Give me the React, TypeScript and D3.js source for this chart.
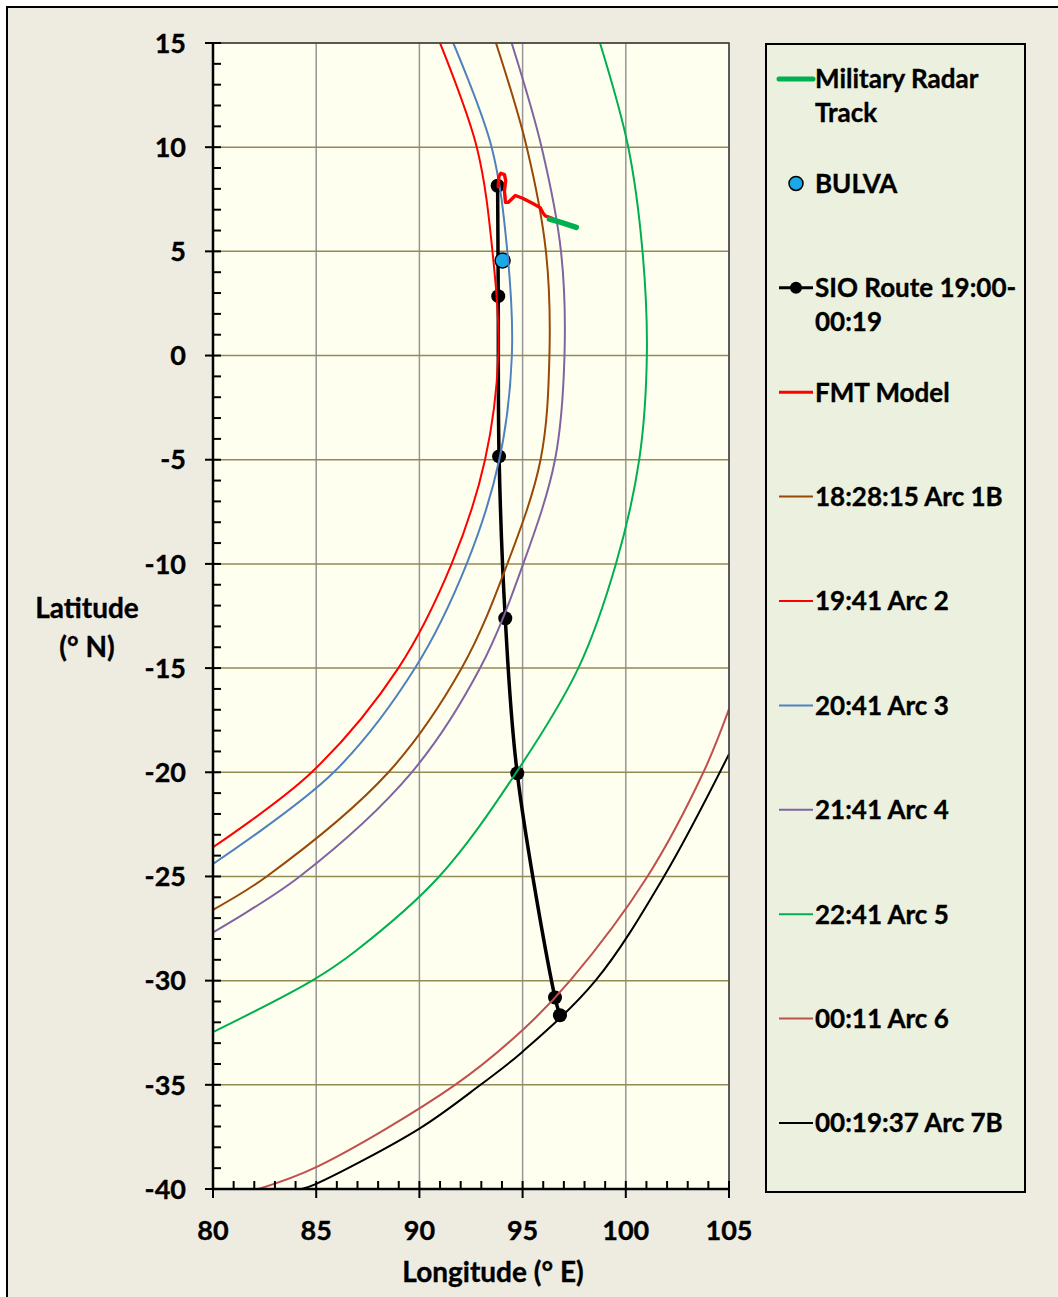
import React from "react";
import * as d3 from "d3";

// Axis ticks
const lonTicks = [80, 85, 90, 95, 100, 105];
const latTicks = [15, 10, 5, 0, -5, -10, -15, -20, -25, -30, -35, -40];

// Military radar track
const radarLon = [96.3, 96.9, 97.6];
const radarLat = [6.55, 6.38, 6.15];

// BULVA waypoint
const bulvaLon = [94.03];
const bulvaLat = [4.56];

// SIO route 19:00-00:19
const sioLon = [93.79, 93.82, 93.86, 94.16, 94.74, 96.57, 96.81];
const sioLat = [8.15, 2.85, -4.84, -12.61, -20.05, -30.81, -31.66];

// FMT model path
const fmtLon = [93.82, 93.85, 93.95, 94.12, 94.18, 94.12, 94.17, 94.3, 94.65, 95.0, 95.5, 95.85, 95.98, 96.1, 96.4, 96.7];
const fmtLat = [8.1, 8.6, 8.75, 8.68, 8.4, 7.9, 7.35, 7.35, 7.68, 7.55, 7.3, 7.1, 6.85, 6.7, 6.6, 6.45];

// Ping arcs
const arc1bLon = [93.71, 95.2, 96.13, 96.3, 95.87, 94.26, 92.05, 88.5, 82.6, 80.0];
const arc1bLat = [15, 10, 5, 0, -5, -10, -15, -20, -25, -26.6];

const arc2Lon = [91.0, 92.78, 93.54, 93.82, 93.18, 91.56, 88.98, 84.78, 80.0];
const arc2Lat = [15, 10, 5, 0, -5, -10, -15, -20, -23.6];

const arc3Lon = [91.64, 93.5, 94.26, 94.48, 93.87, 92.29, 89.79, 85.85, 80.0];
const arc3Lat = [15, 10, 5, 0, -5, -10, -15, -20, -24.4];

const arc4Lon = [94.47, 95.92, 96.86, 97.03, 96.57, 95.03, 92.94, 89.63, 84.2, 80.0];
const arc4Lat = [15, 10, 5, 0, -5, -10, -15, -20, -25, -27.68];

const arc5Lon = [98.75, 100.12, 100.81, 101.02, 100.65, 99.52, 97.7, 94.7, 90.96, 86.88, 84.8, 80.0];
const arc5Lat = [15, 10, 5, 0, -5, -10, -15, -20, -25, -28.6, -30, -32.47];

const arc6Lon = [105.0, 103.76, 101.05, 97.3, 95.0, 91.73, 85.0, 82.2];
const arc6Lat = [-16.97, -20, -25, -30, -32.37, -35, -38.95, -40];

const arc7bLon = [105.0, 101.85, 98.53, 95.0, 92.96, 90.0, 85.0, 84.3];
const arc7bLat = [-19.13, -25, -30, -33.41, -35, -37.1, -39.75, -40];

type Pt = [number, number];
const zip = (lon: number[], lat: number[]): Pt[] => lon.map((v, i) => [v, lat[i]]);

const arcs = [
  { name: "18:28:15 Arc 1B", color: "#984807", pts: zip(arc1bLon, arc1bLat) },
  { name: "19:41 Arc 2", color: "#FF0000", pts: zip(arc2Lon, arc2Lat) },
  { name: "20:41 Arc 3", color: "#4F81BD", pts: zip(arc3Lon, arc3Lat) },
  { name: "21:41 Arc 4", color: "#8064A2", pts: zip(arc4Lon, arc4Lat) },
  { name: "22:41 Arc 5", color: "#00B050", pts: zip(arc5Lon, arc5Lat) },
  { name: "00:11 Arc 6", color: "#C0504D", pts: zip(arc6Lon, arc6Lat) },
  { name: "00:19:37 Arc 7B", color: "#000000", pts: zip(arc7bLon, arc7bLat) },
];

const W = 1058;
const H = 1297;
const left = 213, right = 729, top = 43, bottom = 1189;
const FONT = "Lato, 'Open Sans', sans-serif";

export default function App() {
  const x = d3.scaleLinear().domain([80, 105]).range([left, right]);
  const y = d3.scaleLinear().domain([-40, 15]).range([bottom, top]);

  const smooth = d3
    .line<Pt>()
    .x((d) => x(d[0]))
    .y((d) => y(d[1]))
    .curve(d3.curveCatmullRom.alpha(0.5));
  const straight = d3
    .line<Pt>()
    .x((d) => x(d[0]))
    .y((d) => y(d[1]));

  const minorLon = d3.range(80, 106, 1).filter((v) => v % 5 !== 0);
  const minorLat = d3.range(-40, 16, 1).filter((v) => v % 5 !== 0);

  const sio = zip(sioLon, sioLat);
  const fmt = zip(fmtLon, fmtLat);
  const radar = zip(radarLon, radarLat);
  const bulva = zip(bulvaLon, bulvaLat);

  // legend layout
  const lgX = 766, lgY = 44, lgW = 259, lgH = 1148;
  const rowY = (i: number) => 79 + i * 104.4;
  const sx0 = 779, sx1 = 813, tx = 815;

  const textProps = {
    fontFamily: FONT,
    fontWeight: 700,
    fill: "#000",
    stroke: "#000",
    strokeWidth: 0.35,
  };

  const legendText = (lines: string[], yy: number) => (
    <text x={tx} y={yy} {...textProps} fontSize={26}>
      {lines.map((l, i) => (
        <tspan key={i} x={tx} y={yy + i * 34} dy="0.36em">
          {l}
        </tspan>
      ))}
    </text>
  );

  return (
    <svg
      width={W}
      height={H}
      style={{ position: "absolute", left: 0, top: 0 }}
      xmlns="http://www.w3.org/2000/svg"
    >
      <defs>
        <clipPath id="plotClip">
          <rect x={left} y={top} width={right - left} height={bottom - top} />
        </clipPath>
      </defs>
      <rect x={0} y={0} width={W} height={H} fill="#FFFFFF" />
      <rect x={7} y={7} width={W + 10} height={H + 10} fill="#EEECE1" stroke="#000" strokeWidth={2} />

      {/* plot area */}
      <rect x={left} y={top} width={right - left} height={bottom - top} fill="#FFFFF0" />

      {/* gridlines */}
      {lonTicks.map((v) => (
        <line key={"gx" + v} x1={x(v)} x2={x(v)} y1={top} y2={bottom} stroke="#969696" strokeWidth={1.5} />
      ))}
      {latTicks.map((v) => (
        <line key={"gy" + v} x1={left} x2={right} y1={y(v)} y2={y(v)} stroke="#948A54" strokeWidth={1.5} />
      ))}

      <g clipPath="url(#plotClip)" fill="none">
        {/* SIO route */}
        <path d={smooth(sio) || ""} stroke="#000" strokeWidth={3.5} />
        {sio.map((p, i) => (
          <circle key={"s" + i} cx={x(p[0])} cy={y(p[1])} r={7} fill="#000" />
        ))}
        {/* BULVA */}
        {bulva.map((p, i) => (
          <circle key={"b" + i} cx={x(p[0])} cy={y(p[1])} r={7.5} fill="#1BA8E8" stroke="#000" strokeWidth={1.5} />
        ))}
        {/* ping arcs */}
        {arcs.map((a) => (
          <path key={a.name} d={smooth(a.pts) || ""} stroke={a.color} strokeWidth={2} />
        ))}
        {/* FMT model */}
        <path d={straight(fmt) || ""} stroke="#FF0000" strokeWidth={3.4} strokeLinejoin="round" strokeLinecap="round" />
        {/* military radar track */}
        <path d={straight(radar) || ""} stroke="#00B050" strokeWidth={5.5} strokeLinecap="round" />
      </g>

      {/* plot border */}
      <rect x={left} y={top} width={right - left} height={bottom - top} fill="none" stroke="#3F3F3F" strokeWidth={1.5} />

      {/* axes */}
      <line x1={left} x2={left} y1={top} y2={bottom} stroke="#000" strokeWidth={2.5} />
      <line x1={left} x2={right} y1={bottom} y2={bottom} stroke="#000" strokeWidth={2.5} />
      {latTicks.map((v) => (
        <line key={"ty" + v} x1={205} x2={221} y1={y(v)} y2={y(v)} stroke="#000" strokeWidth={2} />
      ))}
      {minorLat.map((v) => (
        <line key={"my" + v} x1={left} x2={221} y1={y(v)} y2={y(v)} stroke="#000" strokeWidth={2} />
      ))}
      {lonTicks.map((v) => (
        <line key={"tx" + v} x1={x(v)} x2={x(v)} y1={1181} y2={1198} stroke="#000" strokeWidth={2} />
      ))}
      {minorLon.map((v) => (
        <line key={"mx" + v} x1={x(v)} x2={x(v)} y1={1181} y2={bottom} stroke="#000" strokeWidth={2} />
      ))}

      {/* tick labels */}
      {latTicks.map((v) => (
        <text key={"ly" + v} x={186} y={y(v)} dy="0.36em" textAnchor="end" {...textProps} fontSize={27}>
          {v}
        </text>
      ))}
      {lonTicks.map((v) => (
        <text key={"lx" + v} x={x(v)} y={1230} dy="0.36em" textAnchor="middle" {...textProps} fontSize={27}>
          {v}
        </text>
      ))}

      {/* axis titles */}
      <text x={493} y={1272} dy="0.36em" textAnchor="middle" {...textProps} fontSize={28}>
        Longitude (° E)
      </text>
      <text x={87} y={608} dy="0.36em" textAnchor="middle" {...textProps} fontSize={28}>
        Latitude
      </text>
      <text x={87} y={647} dy="0.36em" textAnchor="middle" {...textProps} fontSize={28}>
        (° N)
      </text>

      {/* legend */}
      <rect x={lgX} y={lgY} width={lgW} height={lgH} fill="#EBF1DE" stroke="#000" strokeWidth={2} />
      <line x1={sx0} x2={sx1} y1={rowY(0)} y2={rowY(0)} stroke="#00B050" strokeWidth={5} strokeLinecap="round" />
      {legendText(["Military Radar", "Track"], rowY(0))}
      <circle cx={796} cy={rowY(1)} r={7} fill="#1BA8E8" stroke="#000" strokeWidth={1.5} />
      {legendText(["BULVA"], rowY(1))}
      <line x1={sx0} x2={sx1} y1={rowY(2)} y2={rowY(2)} stroke="#000" strokeWidth={3} />
      <circle cx={796} cy={rowY(2)} r={6} fill="#000" />
      {legendText(["SIO Route 19:00-", "00:19"], rowY(2))}
      <line x1={sx0} x2={sx1} y1={rowY(3)} y2={rowY(3)} stroke="#FF0000" strokeWidth={3} />
      {legendText(["FMT Model"], rowY(3))}
      {arcs.map((a, i) => (
        <g key={"lg" + a.name}>
          <line x1={sx0} x2={sx1} y1={rowY(4 + i)} y2={rowY(4 + i)} stroke={a.color} strokeWidth={2} />
          {legendText([a.name], rowY(4 + i))}
        </g>
      ))}
    </svg>
  );
}
